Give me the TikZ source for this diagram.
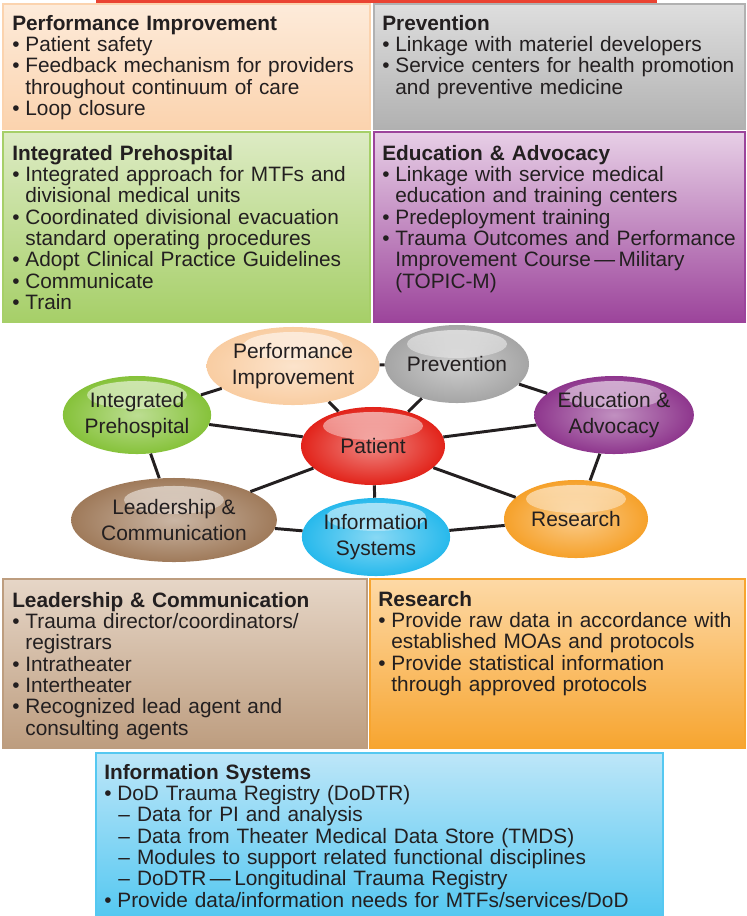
\documentclass[tikz,border=0pt]{standalone}
\usepackage{fontspec}
\setmainfont{Liberation Sans}
\usetikzlibrary{positioning,shapes.geometric,fadings}

\definecolor{inkdark}{HTML}{231F20}
\definecolor{redbar}{HTML}{EA4332}
% panel colours
\definecolor{peachtop}{HTML}{FDEBDA}
\definecolor{peachbot}{HTML}{FBD3AE}
\definecolor{graytop}{HTML}{DEDEDE}
\definecolor{graybot}{HTML}{B1B1B1}
\definecolor{greentop}{HTML}{DDEBC4}
\definecolor{greenbot}{HTML}{A6CF68}
\definecolor{purpletop}{HTML}{E7CFE6}
\definecolor{purplebot}{HTML}{9C449B}
\definecolor{tantop}{HTML}{E6D6C7}
\definecolor{tanbot}{HTML}{BD9D7F}
\definecolor{orangetop}{HTML}{FDD9A6}
\definecolor{orangebot}{HTML}{F7A530}
\definecolor{bluetop}{HTML}{BDE6F8}
\definecolor{bluebot}{HTML}{55C8F1}
% ellipse colours
\definecolor{cperf}{HTML}{F9CDA2}
\definecolor{cprev}{HTML}{A5A5A5}
\definecolor{cedu}{HTML}{8E368D}
\definecolor{cres}{HTML}{F6A12A}
\definecolor{cinfo}{HTML}{27B9EC}
\definecolor{clead}{HTML}{9F7A5A}
\definecolor{cinteg}{HTML}{86C23A}
\definecolor{cpat}{HTML}{E2231A}

\newcommand{\boxfont}{\fontsize{14.8}{15.15}\selectfont}
\newcommand{\blobfont}{\fontsize{14.9}{18.5}\selectfont}
\newcommand{\bul}[1]{\par\noindent\hangindent=0.63em\hangafter=1\makebox[0.63em][l]{\textbullet}#1\par}
\newcommand{\dashline}[1]{\par\noindent\hangindent=1.58em\hangafter=1\hspace*{0.68em}\makebox[0.9em][l]{--}#1\par}

\tikzset{
  panel/.style n args={2}{top color=#1, bottom color=#2, draw=#2, line width=1pt},
  paneltext/.style={anchor=north west, inner sep=0pt, align=left, text width=14cm, font=\boxfont, text=inkdark},
  blob/.style={ellipse, inner sep=0pt, minimum width=3.6cm, minimum height=1.95cm, align=center,
    font=\blobfont, text=inkdark, inner color=#1!55!white, outer color=#1,
    path picture={\fill[white, path fading=south, fill opacity=0.6]
      ([yshift=0.5cm]path picture bounding box.center) ellipse (50 and 14);}},
  link/.style={draw=inkdark, line width=2.1pt},
}

\begin{document}
\begin{tikzpicture}[x=0.025cm, y=-0.025cm]
    \useasboundingbox[fill=white] (0,0) rectangle (746,916);
    \fill[redbar] (96,0) rectangle (657,3);

    % panels
    \filldraw[panel={peachtop}{peachbot}] (3,4) rectangle (370,129);
    \filldraw[panel={graytop}{graybot}] (374,4) rectangle (745,129);
    \filldraw[panel={greentop}{greenbot}] (3,132) rectangle (370,322);
    \filldraw[panel={purpletop}{purplebot}] (374,132) rectangle (745,322);
    \filldraw[panel={tantop}{tanbot}] (3,579) rectangle (367,748);
    \filldraw[panel={orangetop}{orangebot}] (370,579) rectangle (745,748);
    \filldraw[panel={bluetop}{bluebot}] (96,753) rectangle (663,916);

    \node[paneltext] (perftxt) at (12,15) {\textbf{Performance Improvement}
      \bul{Patient safety}
      \bul{Feedback mechanism for providers\newline throughout continuum of care}
      \bul{Loop closure}};
    \node[paneltext] (prevtxt) at (382,15) {\textbf{Prevention}
      \bul{Linkage with materiel developers}
      \bul{Service centers for health promotion\newline and preventive medicine}};
    \node[paneltext] (integtxt) at (12,145) {\textbf{Integrated Prehospital}
      \bul{Integrated approach for MTFs and\newline divisional medical units}
      \bul{Coordinated divisional evacuation\newline standard operating procedures}
      \bul{Adopt Clinical Practice Guidelines}
      \bul{Communicate}
      \bul{Train}};
    \node[paneltext] (edutxt) at (382,145) {\textbf{Education \& Advocacy}
      \bul{Linkage with service medical\newline education and training centers}
      \bul{Predeployment training}
      \bul{Trauma Outcomes and Performance\newline Improvement Course\,---\,Military\newline (TOPIC-M)}};
    \node[paneltext] (leadtxt) at (12,592) {\textbf{Leadership \& Communication}
      \bul{Trauma director/coordinators/\newline registrars}
      \bul{Intratheater}
      \bul{Intertheater}
      \bul{Recognized lead agent and\newline consulting agents}};
    \node[paneltext] (restxt) at (378,591) {\textbf{Research}
      \bul{Provide raw data in accordance with\newline established MOAs and protocols}
      \bul{Provide statistical information\newline through approved protocols}};
    \node[paneltext] (infotxt) at (104,764) {\textbf{Information Systems}
      \bul{DoD Trauma Registry (DoDTR)}
      \dashline{Data for PI and analysis}
      \dashline{Data from Theater Medical Data Store (TMDS)}
      \dashline{Modules to support related functional disciplines}
      \dashline{DoDTR\,---\,Longitudinal Trauma Registry}
      \bul{Provide data/information needs for MTFs/services/DoD}};

    % ring of ellipses round the patient
    \node[blob=cpat] (pat) at (373,446) {Patient};
    \node[blob=cperf] (perf) at (293,366) {Performance\\Improvement};
    \node[blob=cprev] (prev) at (457,364) {Prevention};
    \node[blob=cedu] (edu) at (614,415) {Education \&\\Advocacy};
    \node[blob=cres] (res) at (576,519) {Research};
    \node[blob=cinfo] (info) at (376,537) {Information\\Systems};
    \node[blob=clead, minimum width=3.8cm, minimum height=2.1cm] (lead) at (174,520) {Leadership \&\\Communication};
    \node[blob=cinteg] (integ) at (137,415) {Integrated\\Prehospital};

    \draw[link] (perf) -- (prev);
    \draw[link] (prev) -- (edu);
    \draw[link] (edu) -- (res);
    \draw[link] (res) -- (info);
    \draw[link] (info) -- (lead);
    \draw[link] (lead) -- (integ);
    \draw[link] (integ) -- (perf);
    \draw[link] (pat) -- (perf);
    \draw[link] (pat) -- (prev);
    \draw[link] (pat) -- (edu);
    \draw[link] (pat) -- (res);
    \draw[link] (pat) -- (info);
    \draw[link] (pat) -- (lead);
    \draw[link] (pat) -- (integ);
\end{tikzpicture}
\end{document}
